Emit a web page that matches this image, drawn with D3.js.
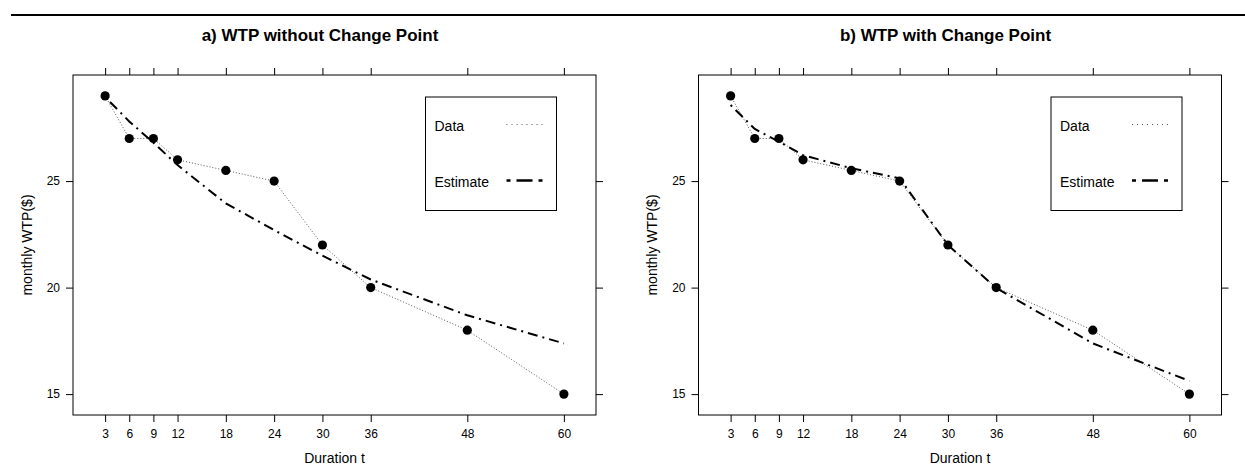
<!DOCTYPE html>
<html>
<head>
<meta charset="utf-8">
<script src="https://cdn.jsdelivr.net/npm/d3@7"></script>
<style>
    body { margin: 0; background: #fff; }
    svg { display: block; font-family: "Liberation Sans", Arial, sans-serif; }
    .axis text { font-size: 12px; fill: #000; }
    .axis line { stroke: #000; }
</style>
</head>
<body>
<div id="wtpChart"></div>
<script>
// Chart data
var durations = [3, 6, 9, 12, 18, 24, 30, 36, 48, 60];
var wtpData = [29, 27, 27, 26, 25.5, 25, 22, 20, 18, 15];
var estimateNoChange = [28.95, 27.8, 26.8, 25.75, 23.95, 22.7, 21.5, 20.38, 18.7, 17.38];
var estimateChange = [28.57, 27.45, 26.85, 26.22, 25.6, 25.13, 22.0, 19.98, 17.38, 15.62];
var xTicks = [3, 6, 9, 12, 18, 24, 30, 36, 48, 60];
var yTicks = [15, 20, 25];
var legendLabels = ["Data", "Estimate"];

// Setting chart parameters
var properties = {
    width: 1245,
    height: 475,
    boxTop: 75,
    boxWidth: 523,
    boxHeight: 340
};

var panels = [
    { title: "a) WTP without Change Point", estimate: estimateNoChange, left: 73 },
    { title: "b) WTP with Change Point", estimate: estimateChange, left: 698.5 }
];

// Appending the chart SVG
var svg = d3.select("#wtpChart")
    .append("svg")
    .attr("width", properties.width)
    .attr("height", properties.height);

// Rule across the top of the figure
svg.append("line")
    .attr("x1", 11).attr("x2", properties.width)
    .attr("y1", 15).attr("y2", 15)
    .attr("stroke", "#000")
    .attr("stroke-width", 2);

// Scales share the padded lattice-style domains
var xPad = (60 - 3) * 0.07;
var yPad = (29 - 15) * 0.07;

function drawPanel(panel) {
    var xScale = d3.scaleLinear()
        .domain([3 - xPad, 60 + xPad])
        .range([0, properties.boxWidth]);

    var yScale = d3.scaleLinear()
        .domain([15 - yPad, 29 + yPad])
        .range([properties.boxHeight, 0]);

    var g = svg.append("g")
        .attr("transform", "translate(" + panel.left + "," + properties.boxTop + ")");

    // Title, centred a little left of the plot box
    g.append("text")
        .attr("x", 247)
        .attr("y", 41 - properties.boxTop)
        .attr("text-anchor", "middle")
        .attr("font-weight", "bold")
        .attr("font-size", 17)
        .text(panel.title);

    // Axes on all four sides, labels only bottom and left
    g.append("g").attr("class", "axis")
        .attr("transform", "translate(0," + properties.boxHeight + ")")
        .call(d3.axisBottom(xScale).tickValues(xTicks).tickSize(7).tickPadding(7).tickSizeOuter(0));
    g.append("g").attr("class", "axis")
        .call(d3.axisTop(xScale).tickValues(xTicks).tickSize(7).tickFormat("").tickSizeOuter(0));
    g.append("g").attr("class", "axis")
        .call(d3.axisLeft(yScale).tickValues(yTicks).tickSize(7).tickPadding(6).tickSizeOuter(0));
    g.append("g").attr("class", "axis")
        .attr("transform", "translate(" + properties.boxWidth + ",0)")
        .call(d3.axisRight(yScale).tickValues(yTicks).tickSize(7).tickFormat("").tickSizeOuter(0));
    g.selectAll(".axis .domain").remove();

    // Plot box
    g.append("rect")
        .attr("width", properties.boxWidth)
        .attr("height", properties.boxHeight)
        .attr("fill", "none")
        .attr("stroke", "#000");

    // Axis titles
    g.append("text")
        .attr("x", properties.boxWidth / 2)
        .attr("y", properties.boxHeight + 48)
        .attr("text-anchor", "middle")
        .attr("font-size", 14)
        .text("Duration t");
    g.append("text")
        .attr("transform", "translate(-46," + properties.boxHeight / 2 + ") rotate(-90)")
        .attr("text-anchor", "middle")
        .attr("dy", "0.35em")
        .attr("font-size", 14)
        .text("monthly WTP($)");

    var dataLine = d3.line()
        .x(function (d, i) { return xScale(durations[i]); })
        .y(function (d) { return yScale(d); });

    // Observed data, dotted
    g.append("path")
        .datum(wtpData)
        .attr("d", dataLine)
        .attr("fill", "none")
        .attr("stroke", "#555")
        .attr("stroke-width", 1)
        .attr("stroke-dasharray", "1,2");

    // Estimate, dot-dash
    g.append("path")
        .datum(panel.estimate)
        .attr("d", dataLine)
        .attr("fill", "none")
        .attr("stroke", "#000")
        .attr("stroke-width", 2)
        .attr("stroke-dasharray", "2,5,10,5");

    // Points
    g.selectAll(".point")
        .data(wtpData)
        .enter()
        .append("circle")
        .attr("class", "point")
        .attr("cx", function (d, i) { return xScale(durations[i]); })
        .attr("cy", function (d) { return yScale(d); })
        .attr("r", 4.6)
        .attr("fill", "#000");

    // Legend
    var legend = g.append("g")
        .attr("transform", "translate(" + (properties.boxWidth - 39.5 - 131) + ",22)");
    legend.append("rect")
        .attr("width", 131)
        .attr("height", 113.5)
        .attr("fill", "#fff")
        .attr("stroke", "#000");
    var items = legend.selectAll(".legend-item")
        .data(legendLabels)
        .enter()
        .append("g")
        .attr("class", "legend-item")
        .attr("transform", function (d, i) { return "translate(0," + (29.5 + i * 56) + ")"; });
    items.append("text")
        .attr("x", 9)
        .attr("dy", "0.35em")
        .attr("font-size", 14)
        .text(function (d) { return d; });
    items.append("line")
        .attr("x1", 81).attr("x2", 121)
        .attr("y1", -2)
        .attr("y2", -2)
        .attr("stroke", function (d, i) { return i === 0 ? "#555" : "#000"; })
        .attr("stroke-width", function (d, i) { return i === 0 ? 1 : 2.5; })
        .attr("stroke-dasharray", function (d, i) { return i === 0 ? "1,4" : "4,6,16,6,4"; });
}

panels.forEach(drawPanel);
</script>
</body>
</html>
